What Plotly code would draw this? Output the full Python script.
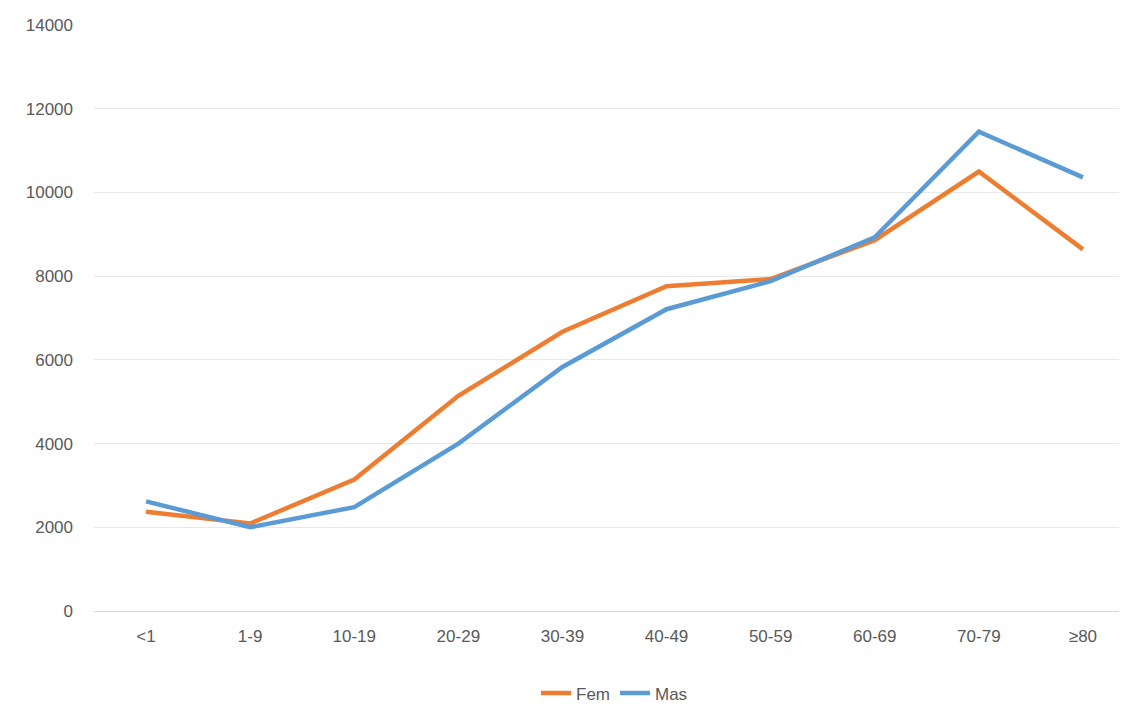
import plotly.graph_objects as go

categories = ["<1", "1-9", "10-19", "20-29", "30-39", "40-49", "50-59", "60-69", "70-79", "≥80"]
fem = [2370, 2090, 3140, 5140, 6670, 7760, 7930, 8860, 10500, 8640]
mas = [2620, 2000, 2480, 4000, 5830, 7210, 7880, 8930, 11450, 10360]

fig = go.Figure()
fig.add_trace(go.Scatter(x=categories, y=fem, name="Fem", mode="lines",
                         line=dict(color="#ED7D31", width=4.5)))
fig.add_trace(go.Scatter(x=categories, y=mas, name="Mas", mode="lines",
                         line=dict(color="#5B9BD5", width=4.5)))

fig.update_layout(
    width=1127, height=704,
    margin=dict(l=86, r=0, t=17, b=90),
    paper_bgcolor="white", plot_bgcolor="white",
    font=dict(family="Liberation Sans, Arial", size=17, color="#595959"),
    xaxis=dict(showgrid=False, showline=True, linecolor="#D9D9D9", ticks="",
               range=[-0.5, 9.5], ticklabelstandoff=10, automargin=False),
    yaxis=dict(range=[0, 14000], dtick=2000, tickformat="d", gridcolor="#E8E8E8",
               zeroline=False, ticklabelstandoff=20, automargin=False),
    legend=dict(orientation="h", x=0.5, xanchor="center", y=-0.11, yanchor="top",
                font=dict(size=17)),
)
fig.write_html("out.html")
